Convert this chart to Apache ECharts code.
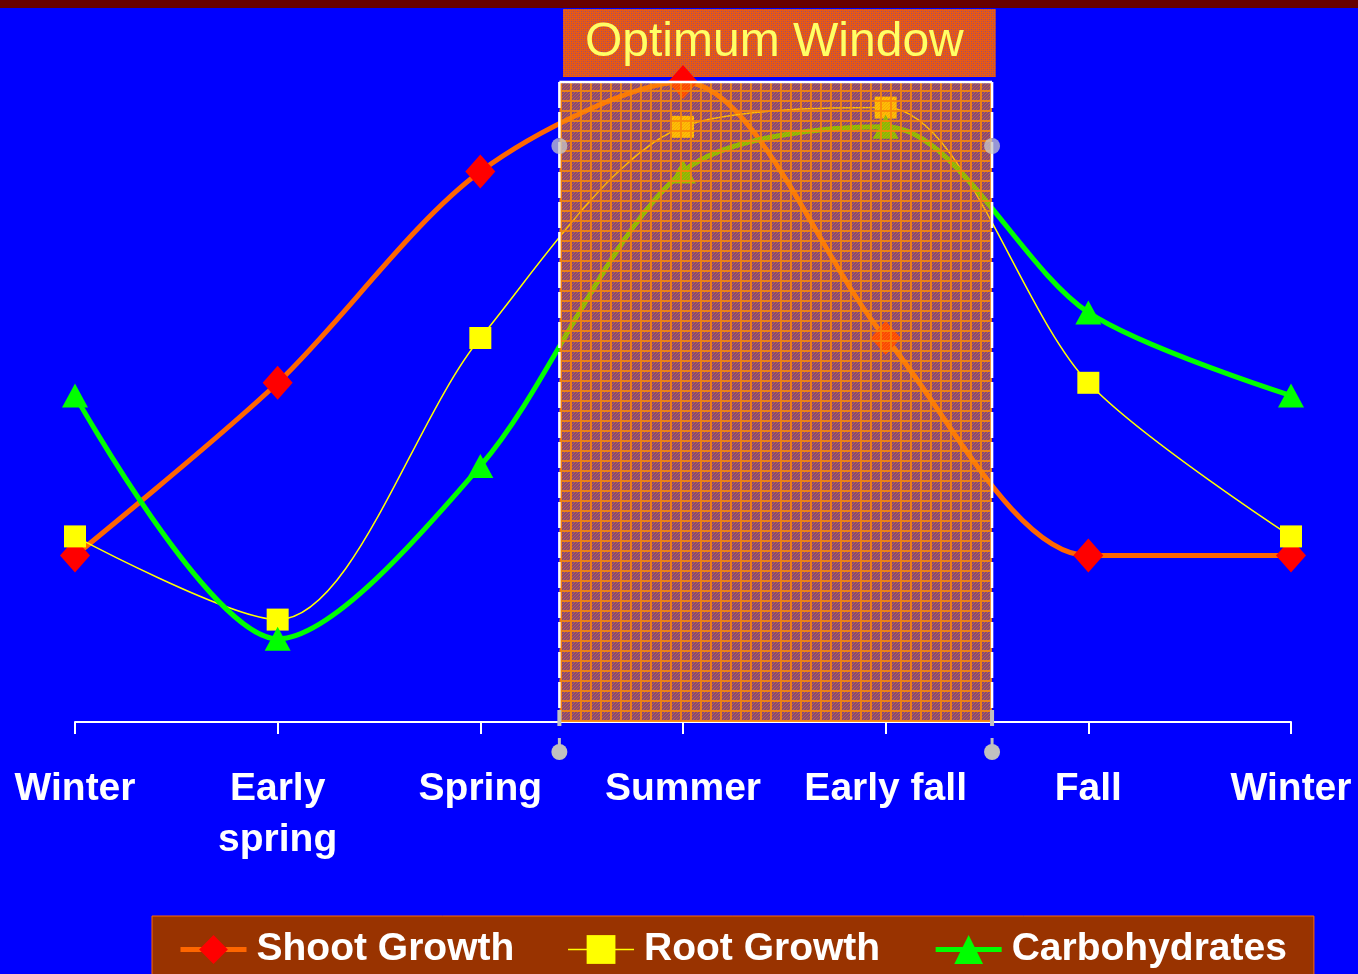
<!DOCTYPE html>
<html>
<head>
<meta charset="utf-8">
<title>Optimum Window</title>
<script src="https://cdn.jsdelivr.net/npm/echarts@6/dist/echarts.min.js"></script>
<style>
  html, body { margin: 0; padding: 0; background: #0000ff; }
  #chart { width: 1358px; height: 974px; }
</style>
</head>
<body>
<div id="chart"></div>
<script>
// season categories along the x axis
const seasons = ['Winter', 'Early\nspring', 'Spring', 'Summer', 'Early fall', 'Fall', 'Winter'];
// relative levels (0-100)
const shootGrowth = [26, 53, 86, 100, 60, 26, 26];
const rootGrowth = [29, 16, 60, 93, 96, 53, 29];
const carbohydrates = [51, 13, 40, 86, 93, 64, 51];
// optimum window: [from, to] in season index units, top level, handle level
const optimumWindow = [2.39, 4.525, 100, 90];

// hatched fill used for the window, drawn pixel by pixel on a small tile
function makeHatch(step, lw, rgb, aLine, aDot, aBase) {
    const c = document.createElement('canvas');
    c.width = step; c.height = step;
    const ctx = c.getContext('2d');
    for (let y = 0; y < step; y++) {
        for (let x = 0; x < step; x++) {
            let a = aBase;
            if (x < lw || y < lw) a = aLine;
            else if ((x + y) % 3 === 0) a = aDot;
            ctx.fillStyle = 'rgba(' + rgb + ',' + a + ')';
            ctx.fillRect(x, y, 1, 1);
        }
    }
    return { image: c, repeat: 'repeat' };
}

function makeTitleFill() {
    const c = document.createElement('canvas');
    c.width = 4; c.height = 4;
    const ctx = c.getContext('2d');
    ctx.fillStyle = '#e85a12';
    ctx.fillRect(0, 0, 4, 4);
    ctx.fillStyle = '#9a4a7a';
    ctx.fillRect(0, 0, 1, 1);
    ctx.fillRect(2, 2, 1, 1);
    ctx.fillStyle = 'rgba(150,70,120,0.5)';
    ctx.fillRect(2, 0, 1, 1);
    ctx.fillRect(0, 2, 1, 1);
    return { image: c, repeat: 'repeat' };
}

const windowFill = makeHatch(10, 2, '250,135,10', 0.95, 0.75, 0.52);
const titleFill = makeTitleFill();

const toPairs = arr => arr.map((v, i) => [i, v]);

const chart = echarts.init(document.getElementById('chart'));

const option = {
    backgroundColor: '#0000ff',
    animation: false,
    textStyle: { fontFamily: 'Liberation Sans, Arial, sans-serif' },
    title: {
        text: 'Optimum Window',
        left: 563,
        top: 9,
        z: 1,
        padding: [10, 32, 10, 22],
        backgroundColor: titleFill,
        textStyle: {
            color: '#ffff66',
            fontSize: 48,
            fontWeight: 'normal',
            fontFamily: 'Liberation Sans, Arial, sans-serif'
        }
    },
    graphic: [
        { type: 'rect', left: 0, top: 0, shape: { width: 1358, height: 8 }, style: { fill: '#660000' }, z: 0 }
    ],
    legend: {
        data: ['Shoot Growth', 'Root Growth', 'Carbohydrates'],
        left: 152,
        top: 916,
        padding: [14, 27, 14, 26],
        itemGap: 53,
        itemWidth: 66,
        itemHeight: 36,
        backgroundColor: '#993300',
        borderColor: '#ff6600',
        borderWidth: 1,
        lineStyle: { width: 'inherit' },
        textStyle: {
            color: '#ffffff',
            fontSize: 39,
            fontWeight: 'bold',
            padding: [0, 0, 0, 5]
        }
    },
    grid: { left: 75, right: 67, top: 18, bottom: 252 },
    xAxis: {
        type: 'value',
        min: 0,
        max: 6,
        interval: 1,
        splitLine: { show: false },
        axisLine: { show: true, lineStyle: { color: '#ffffff', width: 2 } },
        axisTick: { show: true, length: 12, lineStyle: { color: '#ffffff', width: 2 } },
        axisLabel: {
            formatter: v => seasons[v] || '',
            color: '#ffffff',
            fontSize: 39,
            fontWeight: 'bold',
            lineHeight: 51,
            margin: 42,
            showMinLabel: true,
            showMaxLabel: true,
            hideOverlap: false
        }
    },
    yAxis: {
        type: 'value',
        min: 0,
        max: 110,
        show: false,
        splitLine: { show: false }
    },
    series: [
        {
            name: 'Shoot Growth',
            type: 'line',
            smooth: 0.3,
            clip: false,
            z: 2,
            data: toPairs(shootGrowth),
            symbol: 'diamond',
            symbolSize: [30, 34],
            lineStyle: { color: '#ff6600', width: 5 },
            itemStyle: { color: '#ff0000' }
        },
        {
            name: 'Root Growth',
            type: 'line',
            smooth: 0.3,
            clip: false,
            z: 3,
            data: toPairs(rootGrowth),
            symbol: 'rect',
            symbolSize: 22,
            lineStyle: { color: '#ffff00', width: 1.5 },
            itemStyle: { color: '#ffff00' }
        },
        {
            name: 'Carbohydrates',
            type: 'line',
            smooth: 0.3,
            clip: false,
            z: 4,
            data: toPairs(carbohydrates),
            symbol: 'triangle',
            symbolSize: [26, 24],
            lineStyle: { color: '#00ff00', width: 5 },
            itemStyle: { color: '#00ff00' }
        },
        {
            name: 'window',
            type: 'custom',
            z: 10,
            silent: true,
            clip: false,
            data: [optimumWindow],
            renderItem: function (params, api) {
                const tl = api.coord([api.value(0), api.value(2)]);
                const br = api.coord([api.value(1), 0]);
                const hy = api.coord([0, api.value(3)])[1];
                const x0 = tl[0], x1 = br[0], y0 = tl[1], y1 = br[1];
                const grey = '#c0c0c0';
                const border = { stroke: '#ffffff', lineWidth: 2.5, lineDash: [26, 4] };
                const kids = [
                    { type: 'rect', shape: { x: x0, y: y0, width: x1 - x0, height: y1 - y0 }, style: { fill: windowFill } },
                    { type: 'line', shape: { x1: x0, y1: y0, x2: x1, y2: y0 }, style: { stroke: '#ffffff', lineWidth: 2.5 } },
                    { type: 'line', shape: { x1: x0, y1: y0, x2: x0, y2: y1 }, style: border },
                    { type: 'line', shape: { x1: x1, y1: y0, x2: x1, y2: y1 }, style: border }
                ];
                [x0, x1].forEach(function (x) {
                    kids.push({ type: 'circle', shape: { cx: x, cy: hy, r: 8 }, style: { fill: 'rgba(200,200,200,0.75)' } });
                    kids.push({ type: 'line', shape: { x1: x, y1: y1 - 12, x2: x, y2: y1 + 4 }, style: { stroke: grey, lineWidth: 4 } });
                    kids.push({ type: 'line', shape: { x1: x, y1: y1 + 16, x2: x, y2: y1 + 26 }, style: { stroke: grey, lineWidth: 3 } });
                    kids.push({ type: 'circle', shape: { cx: x, cy: y1 + 30, r: 8 }, style: { fill: grey } });
                });
                return { type: 'group', children: kids };
            }
        }
    ]
};

chart.setOption(option);
</script>
</body>
</html>
